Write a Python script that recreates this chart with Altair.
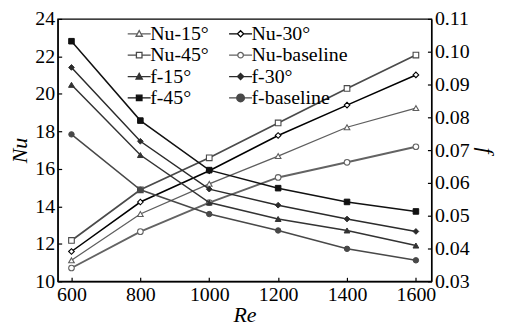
import altair as alt
import pandas as pd

re_vals = [600, 800, 1000, 1200, 1400, 1600]
nu_15 = [11.12, 13.59, 15.2, 16.68, 18.22, 19.24]
nu_30 = [11.59, 14.23, 15.9, 17.78, 19.4, 21.01]
nu_45 = [12.18, 14.88, 16.59, 18.45, 20.29, 22.07]
nu_base = [10.71, 12.65, 14.2, 15.54, 16.35, 17.18]
f_15 = [0.0899, 0.0685, 0.0540, 0.0490, 0.0455, 0.0409]
f_30 = [0.0952, 0.0727, 0.0581, 0.0532, 0.0490, 0.0452]
f_45 = [0.1032, 0.0790, 0.0639, 0.0584, 0.0542, 0.0513]
f_base = [0.0748, 0.0579, 0.0505, 0.0455, 0.0399, 0.0364]

nu_names = ["Nu-15°", "Nu-30°", "Nu-45°", "Nu-baseline"]
f_names = ["f-15°", "f-30°", "f-45°", "f-baseline"]
all_names = nu_names + f_names
nu_ticks = [10, 12, 14, 16, 18, 20, 22, 24]
f_ticks = [0.03, 0.04, 0.05, 0.06, 0.07, 0.08, 0.09, 0.10, 0.11]


def to_long(names, series):
    rows = []
    for n, vals in zip(names, series):
        for r, v in zip(re_vals, vals):
            rows.append({"Re": r, "value": v, "series": n})
    return pd.DataFrame(rows)


nu_df = to_long(nu_names, [nu_15, nu_30, nu_45, nu_base])
f_df = to_long(f_names, [f_15, f_30, f_45, f_base])
leg_df = pd.DataFrame({"series": all_names})

nu_colors = ["#5e5e5e", "#000000", "#4a4a4a", "#636363"]
f_colors = ["#333333", "#2b2b2b", "#111111", "#484848"]
nu_widths = [1.3, 1.9, 1.3, 1.3]
f_widths = [1.5, 1.5, 1.6, 1.5]
nu_shapes = ["triangle-up", "diamond", "square", "circle"]
f_shapes = ["triangle-up", "diamond", "square", "circle"]
f_sizes = [34, 30, 26, 70]

leg_paths = [
    "M-3.3,0H-0.5M0.5,0H3.3M0,-0.9L0.9,0.7L-0.9,0.7Z",
    "M-3.3,0H-0.9M0.9,0H3.3M0,-0.9L0.9,0L0,0.9L-0.9,0Z",
    "M-3.3,0H-0.8M0.8,0H3.3M-0.8,-0.8H0.8V0.8H-0.8Z",
    "M-3.3,0H-0.8M0.8,0H3.3M0.8,0A0.8,0.8,0,1,1,-0.8,0A0.8,0.8,0,1,1,0.8,0Z",
    "M-3.3,0H3.3M0,-0.9L0.9,0.7L-0.9,0.7Z",
    "M-3.3,0H3.3M0,-0.9L0.9,0L0,0.9L-0.9,0Z",
    "M-3.3,0H3.3M-0.8,-0.8H0.8V0.8H-0.8Z",
    "M-3.3,0H3.3M1.1,0A1.1,1.1,0,1,1,-1.1,0A1.1,1.1,0,1,1,1.1,0Z",
]

serif = "Liberation Serif"
tick_in = {"expr": "-4"}

axis_common = dict(
    labelFont=serif, labelFontSize=20,
    titleFont=serif, titleFontSize=22, titleFontStyle="italic", titleFontWeight="normal",
    titleColor="black", grid=False, tickSize=tick_in, labelPadding=7,
)

x_enc = alt.X(
    "Re:Q",
    scale=alt.Scale(domain=[560, 1645], nice=False, zero=False),
    axis=alt.Axis(values=re_vals, format="d", title="Re", titlePadding=0, **axis_common),
)
y_nu = alt.Y(
    "value:Q",
    scale=alt.Scale(domain=[10, 24], nice=False, zero=False),
    axis=alt.Axis(values=nu_ticks, title="Nu", orient="left", titlePadding=3, **axis_common),
)
y_f = alt.Y(
    "value:Q",
    scale=alt.Scale(domain=[0.03, 0.11], nice=False, zero=False),
    axis=alt.Axis(values=f_ticks, format=".2f", title="f", orient="right", titlePadding=4, **axis_common),
)

nu_stroke = alt.Stroke("series:N", scale=alt.Scale(domain=nu_names, range=nu_colors), legend=None)
f_stroke = alt.Stroke("series:N", scale=alt.Scale(domain=f_names, range=f_colors), legend=None)

nu_line = alt.Chart(nu_df).mark_line().encode(
    x=x_enc, y=y_nu, stroke=nu_stroke,
    strokeWidth=alt.StrokeWidth("series:N", scale=alt.Scale(domain=nu_names, range=nu_widths), legend=None),
)
nu_pts = alt.Chart(nu_df).mark_point(opacity=1, fillOpacity=1, strokeWidth=1.1, size=32).encode(
    x=x_enc, y=y_nu, stroke=nu_stroke,
    shape=alt.Shape("series:N", scale=alt.Scale(domain=nu_names, range=nu_shapes), legend=None),
    fill=alt.value("white"),
)
f_line = alt.Chart(f_df).mark_line().encode(
    x=x_enc, y=y_f, stroke=f_stroke,
    strokeWidth=alt.StrokeWidth("series:N", scale=alt.Scale(domain=f_names, range=f_widths), legend=None),
)
f_pts = alt.Chart(f_df).mark_point(opacity=1, fillOpacity=1, strokeWidth=1).encode(
    x=x_enc, y=y_f, stroke=f_stroke,
    fill=alt.Fill("series:N", scale=alt.Scale(domain=f_names, range=f_colors), legend=None),
    shape=alt.Shape("series:N", scale=alt.Scale(domain=f_names, range=f_shapes), legend=None),
    size=alt.Size("series:N", scale=alt.Scale(domain=f_names, range=f_sizes), legend=None),
)

leg = alt.Legend(
    orient="none", legendX=72, legendY=5, columns=2, direction="horizontal", title=None,
    labelFont=serif, labelFontSize=20,
    symbolSize=49, symbolStrokeWidth=1.3, labelOffset=1,
    columnPadding=16, rowPadding=1.5, symbolOpacity=1,
)
legend_layer = alt.Chart(leg_df).transform_filter("false").mark_point(opacity=1, fillOpacity=1).encode(
    shape=alt.Shape("series:N", scale=alt.Scale(domain=all_names, range=leg_paths), legend=leg),
    stroke=alt.Stroke("series:N", scale=alt.Scale(domain=all_names, range=nu_colors + f_colors), legend=leg),
    fill=alt.Fill("series:N", scale=alt.Scale(domain=all_names, range=["white"] * 4 + f_colors), legend=leg),
)

nu_layer = alt.layer(nu_line, nu_pts)
f_layer = alt.layer(f_line, f_pts)

chart = alt.layer(nu_layer, f_layer, legend_layer).resolve_scale(
    y="independent", stroke="independent", fill="independent",
    shape="independent", size="independent", strokeWidth="independent",
).properties(
    width=376, height=264, padding={"left": 1, "top": 0, "right": 2, "bottom": 1}
).configure_view(
    stroke="black", strokeWidth=1.3
).configure_axis(
    domainColor="black", tickColor="black", domainWidth=1.3, tickWidth=1.2,
)

chart.save("out.html", embed_options={"renderer": "svg", "actions": False})
